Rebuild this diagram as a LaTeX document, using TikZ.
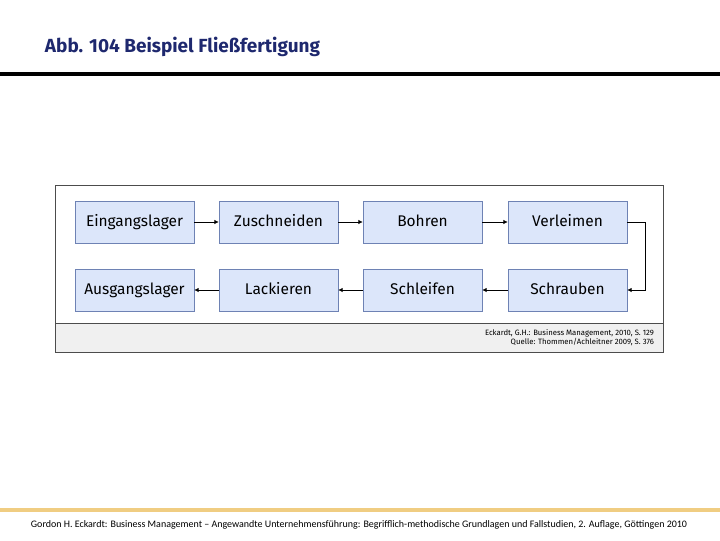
\documentclass[tikz,border=0pt]{standalone}
\usepackage{fontspec}
\setmainfont{Fira Sans}
\newfontfamily\footfont{Carlito}
\usetikzlibrary{arrows.meta}
\definecolor{boxblue}{RGB}{220,230,250}
\definecolor{boxedge}{RGB}{110,130,180}
\definecolor{bandgray}{RGB}{240,240,240}
\definecolor{goldline}{RGB}{240,205,130}
\definecolor{titleblue}{RGB}{30,40,110}

\begin{document}
\begin{tikzpicture}[x=0.025cm,y=-0.025cm,
    stepbox/.style={draw=boxedge,fill=boxblue,minimum width=2.975cm,minimum height=1.05cm,
      text height=1.6ex,text depth=0.4ex,font=\fontsize{11}{13}\selectfont},
    flow/.style={-{Latex[length=3pt,width=3pt]},thin}]

    \useasboundingbox (0,0) rectangle (720,540);

    % title and rule
    \node[anchor=west,text=titleblue,font=\fontsize{13.5}{15}\selectfont\bfseries] (title) at (40,47) {Abb. 104 Beispiel Fließfertigung};
    \draw[line width=3pt] (0,74) -- (720,74);

    % frame with source band
    \draw[fill=bandgray,draw=black!70] (55,323) rectangle (663,352);
    \draw[fill=white,draw=black!70] (55,185) rectangle (663,323);
    \node[anchor=east,align=right,font=\fontsize{5.5}{6.5}\selectfont] (quelle) at (659,338) {Eckardt, G.H.: Business Management, 2010, S. 129\\Quelle: Thommen/Achleitner 2009, S. 376};

    % process steps
    \node[stepbox] (ein) at (134.5,222) {Eingangslager};
    \node[stepbox] (zu)  at (278.5,222) {Zuschneiden};
    \node[stepbox] (bo)  at (422.5,222) {Bohren};
    \node[stepbox] (ve)  at (567.5,222) {Verleimen};
    \node[stepbox] (aus) at (134.5,290) {Ausgangslager};
    \node[stepbox] (la)  at (278.5,290) {Lackieren};
    \node[stepbox] (sl)  at (422.5,290) {Schleifen};
    \node[stepbox] (sr)  at (567.5,290) {Schrauben};

    % arrows
    \draw[flow] (ein) -- (zu);
    \draw[flow] (zu) -- (bo);
    \draw[flow] (bo) -- (ve);
    \draw[flow] (ve.east) -| (645,256) |- (sr.east);
    \draw[flow] (sr) -- (sl);
    \draw[flow] (sl) -- (la);
    \draw[flow] (la) -- (aus);

    % footer
    \draw[goldline,line width=3pt] (0,510) -- (720,510);
    \node[font=\footfont\fontsize{7.1}{8}\selectfont] (foot) at (359,525) {Gordon H. Eckardt: Business Management – Angewandte Unternehmensführung: Begrifflich-methodische Grundlagen und Fallstudien, 2. Auflage, Göttingen 2010};
\end{tikzpicture}
\end{document}
